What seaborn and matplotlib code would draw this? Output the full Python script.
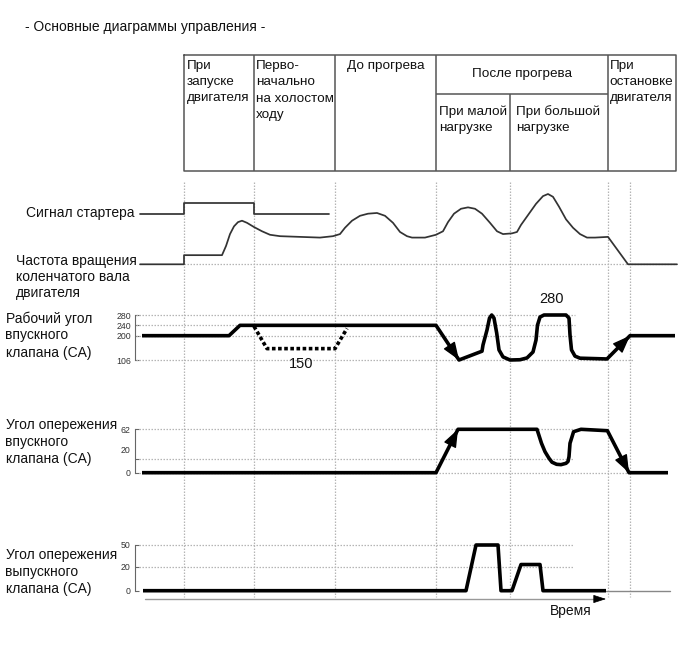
import numpy as np
import matplotlib
matplotlib.use("Agg")
import matplotlib.pyplot as plt
import seaborn as sns

sns.set_theme(style="white")
plt.rcParams["font.family"] = ["Liberation Sans", "DejaVu Sans"]

# ------------------------------------------------------------------ data
title = "- Основные диаграммы управления -"

# phase boundaries on the time axis (arbitrary time units, 0 = engine start)
phase_bounds = [0, 70, 151, 252, 326, 424, 492]
phase_marks = [0, 70, 151, 252, 326, 424, 446]

# starter signal (0 = off, 1 = on)
starter_t = [-44, 0, 70, 145]
starter_v = [0, 1, 0, 0]

# engine speed (relative units, 0 = stopped)
rpm_t = [-44, 0, 0, 38, 42, 46, 50, 54, 58, 63, 70, 78, 86, 96, 116, 136, 149,
         156, 161, 168, 176, 184, 193, 201, 209, 216, 223, 228, 241, 252, 259,
         264, 270, 277, 284, 291, 298, 306, 313, 319, 328, 333, 337, 344, 352,
         359, 364, 369, 375, 382, 389, 396, 403, 411, 424, 444, 493]
rpm_v = [0, 0, 13, 13, 26, 43, 54, 60, 62, 59, 53, 47, 42, 40, 39, 38, 40,
         43, 52, 62, 69, 72, 73, 69, 59, 46, 40, 38, 38, 42, 47,
         60, 72, 79, 81, 79, 72, 59, 47, 43, 44, 46, 56, 70, 86,
         97, 100, 96, 82, 64, 52, 43, 38, 38, 39, 0, 0]

# intake valve working angle (CA)
ivt_ticks = [106, 200, 240, 280]
ivt_t = [-42, 45, 56, 252, 275, 298, 299, 303, 305.5, 307.7, 310, 312.7, 315,
         319, 326, 336, 343, 349, 352, 353.5, 356, 360, 382, 385, 386, 387.5,
         391, 396, 423, 446, 491]
ivt_v = [200, 200, 240, 240, 106, 140, 164, 222, 268, 280, 268, 210, 145,
         118, 106, 107, 114, 137, 183, 241, 272, 280, 280, 268, 203, 145,
         121, 113, 110, 200, 200]
ivt_cold_t = [70, 83, 151, 163]
ivt_cold_v = [236, 150, 150, 228]

# intake valve advance angle (CA)
iva_ticks = [0, 20, 62]
iva_t = [-42, 252, 274, 353, 357.5, 361, 365, 368, 372.6, 377, 382, 384, 385,
         386, 389.6, 397, 423.4, 445, 484]
iva_v = [0, 0, 62, 62, 42, 30, 20.6, 15, 12, 11.5, 13.4, 16, 22.9,
         42, 58.6, 62, 60, 0, 0]

# exhaust valve advance angle (CA)
eva_ticks = [0, 20, 50]
eva_t = [-41, 282, 292, 314, 317, 328, 337, 356, 359, 422]
eva_v = [0, 0, 50, 50, 0, 0, 23, 23, 0, 0]
eva_tail_t = [422, 486]
eva_tail_v = [0, 0]

# ------------------------------------------------------------------ layout
W, H = 690, 659
T0, T1 = -184, 506
FS = 10
FS_TAB = 9.7
LINE = "#333333"
GRID = "#b5b5b5"

fig = plt.figure(figsize=(W / 100, H / 100), dpi=100)

ax_c = fig.add_axes([0, 0, 1, 1])
ax_c.set_xlim(0, W); ax_c.set_ylim(H, 0); ax_c.axis("off")

ax_t = fig.add_axes([0, 0, 1, 1])
ax_t.set_xlim(T0, T1); ax_t.set_ylim(H, 0); ax_t.axis("off")
ax_t.patch.set_alpha(0)


def txt(x, y, s, **kw):
    kw.setdefault("fontsize", FS)
    kw.setdefault("va", "baseline")
    kw.setdefault("color", "#111111")
    ax_c.text(x, y, s, **kw)


def txt_t(x, y, s, **kw):
    kw.setdefault("fontsize", FS_TAB)
    kw.setdefault("va", "baseline")
    kw.setdefault("color", "#111111")
    ax_t.text(x, y, s, **kw)


txt(25, 31, title)

# phase table
TB_TOP, TB_MID, TB_BOT = 55, 94, 170.7
tcol = "#555555"
b = phase_bounds
ax_t.plot([b[0], b[-1], b[-1], b[0], b[0]], [TB_TOP, TB_TOP, TB_BOT, TB_BOT, TB_TOP],
          color=tcol, lw=1.1)
ax_t.vlines([b[1], b[2], b[3], b[5]], TB_TOP, TB_BOT, color=tcol, lw=1.1)
ax_t.vlines([b[4]], TB_MID, TB_BOT, color=tcol, lw=1.1)
ax_t.hlines([TB_MID], b[3], b[5], color=tcol, lw=1.1)

rows = [68.5, 85, 101.5, 118]
for i, s in enumerate(["При", "запуске", "двигателя"]):
    txt_t(b[0] + 3, rows[i], s)
for i, s in enumerate(["Перво-", "начально", "на холостом", "ходу"]):
    txt_t(b[1] + 2, rows[i], s)
txt_t((b[2] + b[3]) / 2, rows[0], "До прогрева", ha="center")
txt_t((b[3] + b[5]) / 2, 77.5, "После прогрева", ha="center")
for i, s in enumerate(["При малой", "нагрузке"]):
    txt_t(b[3] + 3, 115 + 16 * i, s)
for i, s in enumerate(["При большой", "нагрузке"]):
    txt_t(b[4] + 6, 115 + 16 * i, s)
for i, s in enumerate(["При", "остановке", "двигателя"]):
    txt_t(b[5] + 1.5, rows[i], s)

# dotted phase markers
ax_t.vlines(phase_marks, 182, 597, color=GRID, lw=0.9, linestyles=(0, (1.2, 1.2)))

# left labels
left_labels = [
    (26.5, [217.5], ["Сигнал стартера"]),
    (15.5, [265, 281, 296.5], ["Частота вращения", "коленчатого вала", "двигателя"]),
    (5.5, [323.5, 339.5, 357], ["Рабочий угол", "впускного", "клапана (CA)"]),
    (5.5, [429.5, 446, 463.5], ["Угол опережения", "впускного", "клапана (CA)"]),
    (5.5, [559.5, 576, 592.5], ["Угол опережения", "выпускного", "клапана (CA)"]),
]
for x, ys, lines in left_labels:
    for y, s in zip(ys, lines):
        txt(x, y, s)


def panel(p_top, p_bot, ref1, ref2):
    (v1, q1), (v2, q2) = ref1, ref2
    k = (q1 - q2) / (v2 - v1)
    v_top = v1 + (q1 - p_top) / k
    v_bot = v1 + (q1 - p_bot) / k
    ax = fig.add_axes([0, 1 - p_bot / H, 1, (p_bot - p_top) / H])
    ax.set_xlim(T0, T1)
    ax.set_ylim(v_bot, v_top)
    ax.patch.set_alpha(0)
    for s in ax.spines.values():
        s.set_visible(False)
    ax.set_xticks([]); ax.set_yticks([])
    return ax


def bracket(ax, ticks):
    sp = ax.spines["left"]
    sp.set_visible(True)
    sp.set_position(("data", -49))
    sp.set_bounds(min(ticks), max(ticks))
    sp.set_color("#666666"); sp.set_linewidth(0.8)
    ax.set_yticks(ticks)
    ax.set_yticklabels([str(v) for v in ticks])
    ax.tick_params(axis="y", left=True, direction="in", length=3, width=0.8,
                   color="#666666", labelsize=6.3, labelcolor="#333333", pad=3)


def clean(ax):
    ax.set_xlabel(""); ax.set_ylabel("")
    if ax.get_legend() is not None:
        ax.get_legend().remove()


def arrow(ax, t, v, i):
    ax.annotate("", xy=(t[i + 1], v[i + 1]), xytext=(t[i], v[i]),
                arrowprops=dict(arrowstyle="-|>,head_length=11,head_width=4.2",
                                mutation_scale=1, lw=1, color="black",
                                shrinkA=0, shrinkB=0), zorder=5)


THICK = dict(color="black", lw=2.6, sort=False, estimator=None,
             solid_joinstyle="round", solid_capstyle="butt")

# starter signal
ax_s = panel(192, 222, (0, 214), (1, 203.3))
sns.lineplot(x=starter_t, y=starter_v, ax=ax_s, color=LINE, lw=1.25,
             drawstyle="steps-post", sort=False, estimator=None)
clean(ax_s)

# engine speed
ax_r = panel(185, 272, (0, 264.3), (100, 194))
ax_r.hlines(0, 0, 492, color=GRID, lw=0.9, linestyles=(0, (1.2, 1.2)))
sns.lineplot(x=rpm_t, y=rpm_v, ax=ax_r, color=LINE, lw=1.25, sort=False,
             estimator=None)
clean(ax_r)

# intake valve working angle
ax_i = panel(300, 375, (106, 360), (280, 315))
bracket(ax_i, ivt_ticks)
ax_i.hlines([200, 240, 280], -48, 391, color=GRID, lw=0.9, linestyles=(0, (1.2, 1.2)))
ax_i.hlines([106], -48, 450, color=GRID, lw=0.9, linestyles=(0, (1.2, 1.2)))
sns.lineplot(x=ivt_t, y=ivt_v, ax=ax_i, **THICK)
sns.lineplot(x=ivt_cold_t, y=ivt_cold_v, ax=ax_i, color="black", lw=2.6,
             sort=False, estimator=None, linestyle=(0, (1, 0.7)))
arrow(ax_i, ivt_t, ivt_v, 3)
arrow(ax_i, ivt_t, ivt_v, 28)
ax_i.text((ivt_cold_t[1] + ivt_cold_t[2]) / 2, 92, str(min(ivt_cold_v)),
          fontsize=10.5, ha="center", va="center", color="#111111")
ax_i.text(ivt_t[21] + 8, max(ivt_v) + 60, str(max(ivt_v)), fontsize=10.5,
          ha="center", va="center", color="#111111")
clean(ax_i)

# intake valve advance
ax_a = panel(415, 482, (0, 472.7), (62, 429.3))
bracket(ax_a, iva_ticks)
ax_a.set_yticklabels(["0", "", "62"])
ax_a.annotate("20", xy=(-49, 20), xytext=(-5, 8), textcoords="offset pixels",
              ha="right", va="center", fontsize=6.3, color="#333333")
ax_a.hlines([20, 62], -45, 389, color=GRID, lw=0.9, linestyles=(0, (1.2, 1.2)))
ax_a.hlines([0], -45, 446, color=GRID, lw=0.9, linestyles=(0, (1.2, 1.2)))
sns.lineplot(x=iva_t, y=iva_v, ax=ax_a, **THICK)
arrow(ax_a, iva_t, iva_v, 1)
arrow(ax_a, iva_t, iva_v, 16)
clean(ax_a)

# exhaust valve advance (schematic, piecewise scale)
ax_e = fig.add_axes([0, 1 - 600 / H, 1, 70 / H])
kv = [-100, 0, 20, 50, 200]
kp = [-120, 0, 24, 45.7, 154.2]
ax_e.set_yscale("function", functions=(lambda v: np.interp(v, kv, kp),
                                       lambda p: np.interp(p, kp, kv)))
ax_e.set_xlim(T0, T1)
ax_e.set_ylim(np.interp(590.7 - 600, kp, kv), np.interp(590.7 - 530, kp, kv))
ax_e.patch.set_alpha(0)
for s in ax_e.spines.values():
    s.set_visible(False)
ax_e.set_xticks([])
bracket(ax_e, eva_ticks)
ax_e.hlines([20, 50], -45, 390, color=GRID, lw=0.9, linestyles=(0, (1.2, 1.2)))
sns.lineplot(x=eva_tail_t, y=eva_tail_v, ax=ax_e, color="#888888", lw=1.0,
             sort=False, estimator=None)
sns.lineplot(x=eva_t, y=eva_v, ax=ax_e, **THICK)
clean(ax_e)

# time axis arrow
t_end = eva_t[-1]
ax_t.plot([-39, t_end - 10], [599, 599], color="#999999", lw=1.0)
ax_t.annotate("", xy=(t_end, 599), xytext=(t_end - 11, 599),
              arrowprops=dict(arrowstyle="-|>,head_length=8,head_width=2.6",
                              mutation_scale=1, lw=0.5, color="black",
                              shrinkA=0, shrinkB=0))
txt_t(t_end - 35, 615.5, "Время", ha="center", fontsize=FS)

fig.savefig("out.png", dpi=100, facecolor="white")
